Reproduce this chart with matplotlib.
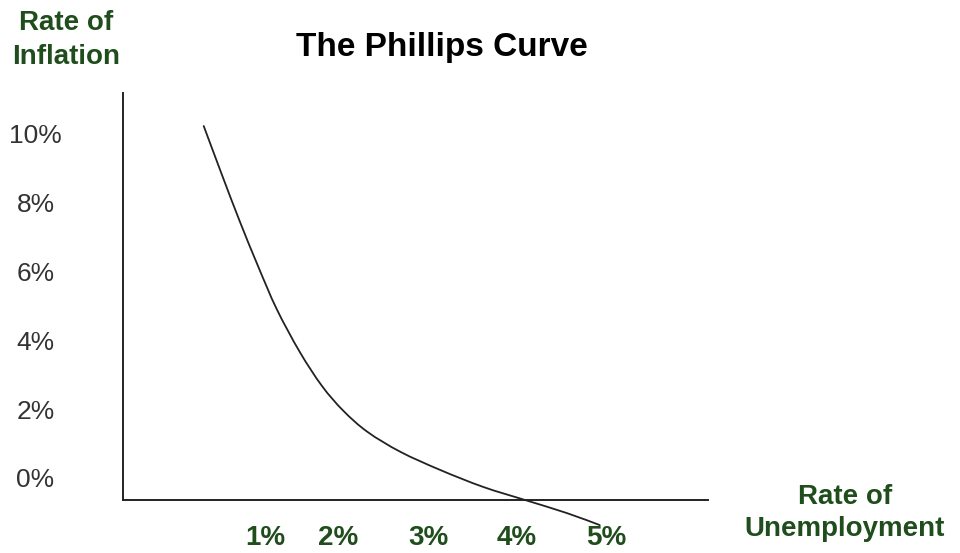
import matplotlib
matplotlib.use("Agg")
import matplotlib.pyplot as plt
from matplotlib.path import Path
from matplotlib.patches import PathPatch

plt.rcParams['font.family'] = ['Liberation Sans', 'DejaVu Sans']

# curve (unemployment %, inflation %)
unemployment = [0.48, 0.685, 0.888, 1.09, 1.30, 1.56, 1.81, 2.05, 2.32, 2.69, 3.14, 3.62, 4.09, 4.56, 4.93]
inflation = [10.23, 8.81, 7.44, 6.16, 4.91, 3.66, 2.67, 1.95, 1.34, 0.76, 0.23, -0.26, -0.64, -1.02, -1.37]

y_ticks = [0, 2, 4, 6, 8, 10]
y_labels = ['0%', '2%', '4%', '6%', '8%', '10%']
x_labels = ['1%', '2%', '3%', '4%', '5%']
x_label_pos = [1.17, 1.99, 3.0, 4.0, 5.0]

green = '#1f4d1c'
ink = '#222222'

fig = plt.figure(figsize=(9.6, 5.53), dpi=100)
ax = fig.add_axes([123 / 960, 53 / 553, 585 / 960, 407 / 553])

# smooth line through the points (Catmull-Rom as cubic bezier segments)
pts = list(zip(unemployment, inflation))
verts = [pts[0]]
codes = [Path.MOVETO]
n = len(pts)
for i in range(n - 1):
    p0 = pts[max(i - 1, 0)]
    p1 = pts[i]
    p2 = pts[i + 1]
    p3 = pts[min(i + 2, n - 1)]
    c1 = (p1[0] + (p2[0] - p0[0]) / 6, p1[1] + (p2[1] - p0[1]) / 6)
    c2 = (p2[0] - (p3[0] - p1[0]) / 6, p2[1] - (p3[1] - p1[1]) / 6)
    verts += [c1, c2, p2]
    codes += [Path.CURVE4] * 3
curve = PathPatch(Path(verts, codes), facecolor='none', edgecolor=ink, lw=1.3,
                  clip_on=False, capstyle='round', joinstyle='round')
ax.add_patch(curve)

ax.set_xlim(-0.427, 6.146)
ax.set_ylim(-0.64, 11.19)

for s in ['top', 'right']:
    ax.spines[s].set_visible(False)
for s in ['left', 'bottom']:
    ax.spines[s].set_color(ink)
    ax.spines[s].set_linewidth(1.4)

ax.set_yticks(y_ticks)
ax.set_yticklabels(y_labels, fontsize=19, color='#333333', ha='center')
ax.tick_params(axis='y', length=0, pad=63)

ax.set_xticks(x_label_pos)
ax.set_xticklabels(x_labels, fontsize=20, fontweight='bold', color=green)
ax.tick_params(axis='x', length=0, pad=18)

fig.text(442 / 960, 1 - 56 / 553, 'The Phillips Curve', ha='center', va='baseline',
         fontsize=24, fontweight='bold', color='black')
fig.text(66 / 960, 1 - 40 / 553, 'Rate of\nInflation', ha='center', va='center',
         multialignment='center', fontsize=20, fontweight='bold', color=green, linespacing=1.35)
fig.text(845 / 960, 1 - 513 / 553, 'Rate of\nUnemployment', ha='center', va='center',
         multialignment='center', fontsize=20, fontweight='bold', color=green, linespacing=1.35)

fig.savefig('out.png', dpi=100)
